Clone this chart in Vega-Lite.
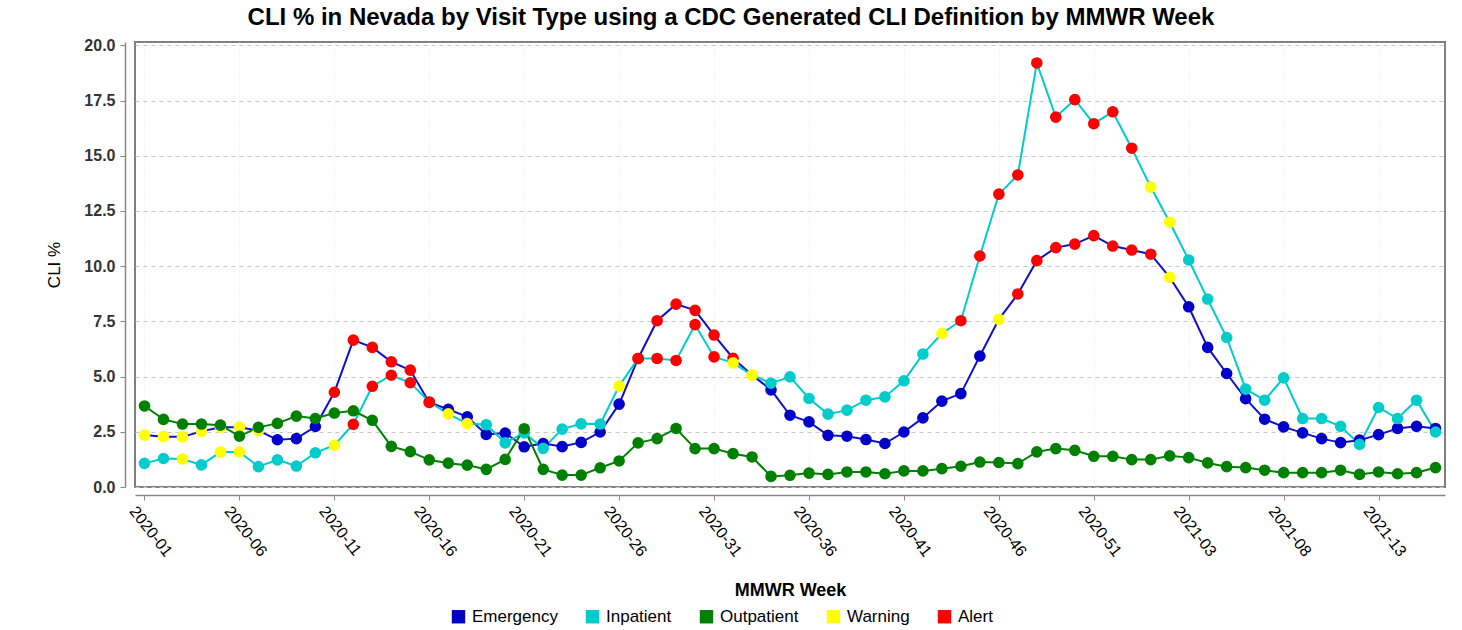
{
"$schema": "https://vega.github.io/schema/vega-lite/v6.json",
"width": 1310, "height": 445,
"autosize": {"type": "none"},
"padding": {"left": 135, "top": 42, "right": 17, "bottom": 143},
"background": "white",
"config": {"font": "Liberation Sans", "view": {"stroke": "#7f7f7f", "strokeWidth": 2}},
"title": {"text": "CLI % in Nevada by Visit Type using a CDC Generated CLI Definition by MMWR Week", "fontSize": 24, "fontWeight": "bold", "color": "#000000", "offset": 7, "dx": -59},
"datasets": {"cli": [
{"week":"2020-01","type":"Emergency","value":2.35,"marker":"Warning"},
{"week":"2020-02","type":"Emergency","value":2.28,"marker":"Warning"},
{"week":"2020-03","type":"Emergency","value":2.27,"marker":"Warning"},
{"week":"2020-04","type":"Emergency","value":2.52,"marker":"Warning"},
{"week":"2020-05","type":"Emergency","value":2.70,"marker":"Warning"},
{"week":"2020-06","type":"Emergency","value":2.71,"marker":"Warning"},
{"week":"2020-07","type":"Emergency","value":2.55,"marker":"Warning"},
{"week":"2020-08","type":"Emergency","value":2.14,"marker":"Emergency"},
{"week":"2020-09","type":"Emergency","value":2.19,"marker":"Emergency"},
{"week":"2020-10","type":"Emergency","value":2.74,"marker":"Emergency"},
{"week":"2020-11","type":"Emergency","value":4.29,"marker":"Alert"},
{"week":"2020-12","type":"Emergency","value":6.65,"marker":"Alert"},
{"week":"2020-13","type":"Emergency","value":6.32,"marker":"Alert"},
{"week":"2020-14","type":"Emergency","value":5.67,"marker":"Alert"},
{"week":"2020-15","type":"Emergency","value":5.29,"marker":"Alert"},
{"week":"2020-16","type":"Emergency","value":3.83,"marker":"Alert"},
{"week":"2020-17","type":"Emergency","value":3.52,"marker":"Emergency"},
{"week":"2020-18","type":"Emergency","value":3.18,"marker":"Emergency"},
{"week":"2020-19","type":"Emergency","value":2.38,"marker":"Emergency"},
{"week":"2020-20","type":"Emergency","value":2.44,"marker":"Emergency"},
{"week":"2020-21","type":"Emergency","value":1.82,"marker":"Emergency"},
{"week":"2020-22","type":"Emergency","value":1.97,"marker":"Emergency"},
{"week":"2020-23","type":"Emergency","value":1.83,"marker":"Emergency"},
{"week":"2020-24","type":"Emergency","value":2.02,"marker":"Emergency"},
{"week":"2020-25","type":"Emergency","value":2.49,"marker":"Emergency"},
{"week":"2020-26","type":"Emergency","value":3.75,"marker":"Emergency"},
{"week":"2020-27","type":"Emergency","value":5.82,"marker":"Alert"},
{"week":"2020-28","type":"Emergency","value":7.53,"marker":"Alert"},
{"week":"2020-29","type":"Emergency","value":8.28,"marker":"Alert"},
{"week":"2020-30","type":"Emergency","value":8.00,"marker":"Alert"},
{"week":"2020-31","type":"Emergency","value":6.88,"marker":"Alert"},
{"week":"2020-32","type":"Emergency","value":5.83,"marker":"Alert"},
{"week":"2020-33","type":"Emergency","value":5.07,"marker":"Warning"},
{"week":"2020-34","type":"Emergency","value":4.40,"marker":"Emergency"},
{"week":"2020-35","type":"Emergency","value":3.25,"marker":"Emergency"},
{"week":"2020-36","type":"Emergency","value":2.95,"marker":"Emergency"},
{"week":"2020-37","type":"Emergency","value":2.34,"marker":"Emergency"},
{"week":"2020-38","type":"Emergency","value":2.30,"marker":"Emergency"},
{"week":"2020-39","type":"Emergency","value":2.15,"marker":"Emergency"},
{"week":"2020-40","type":"Emergency","value":1.97,"marker":"Emergency"},
{"week":"2020-41","type":"Emergency","value":2.49,"marker":"Emergency"},
{"week":"2020-42","type":"Emergency","value":3.13,"marker":"Emergency"},
{"week":"2020-43","type":"Emergency","value":3.89,"marker":"Emergency"},
{"week":"2020-44","type":"Emergency","value":4.23,"marker":"Emergency"},
{"week":"2020-45","type":"Emergency","value":5.93,"marker":"Emergency"},
{"week":"2020-46","type":"Emergency","value":7.59,"marker":"Warning"},
{"week":"2020-47","type":"Emergency","value":8.74,"marker":"Alert"},
{"week":"2020-48","type":"Emergency","value":10.25,"marker":"Alert"},
{"week":"2020-49","type":"Emergency","value":10.84,"marker":"Alert"},
{"week":"2020-50","type":"Emergency","value":11.00,"marker":"Alert"},
{"week":"2020-51","type":"Emergency","value":11.38,"marker":"Alert"},
{"week":"2020-52","type":"Emergency","value":10.91,"marker":"Alert"},
{"week":"2020-53","type":"Emergency","value":10.73,"marker":"Alert"},
{"week":"2021-01","type":"Emergency","value":10.54,"marker":"Alert"},
{"week":"2021-02","type":"Emergency","value":9.49,"marker":"Warning"},
{"week":"2021-03","type":"Emergency","value":8.16,"marker":"Emergency"},
{"week":"2021-04","type":"Emergency","value":6.32,"marker":"Emergency"},
{"week":"2021-05","type":"Emergency","value":5.14,"marker":"Emergency"},
{"week":"2021-06","type":"Emergency","value":4.00,"marker":"Emergency"},
{"week":"2021-07","type":"Emergency","value":3.07,"marker":"Emergency"},
{"week":"2021-08","type":"Emergency","value":2.72,"marker":"Emergency"},
{"week":"2021-09","type":"Emergency","value":2.45,"marker":"Emergency"},
{"week":"2021-10","type":"Emergency","value":2.19,"marker":"Emergency"},
{"week":"2021-11","type":"Emergency","value":2.01,"marker":"Emergency"},
{"week":"2021-12","type":"Emergency","value":2.12,"marker":"Emergency"},
{"week":"2021-13","type":"Emergency","value":2.37,"marker":"Emergency"},
{"week":"2021-14","type":"Emergency","value":2.65,"marker":"Emergency"},
{"week":"2021-15","type":"Emergency","value":2.75,"marker":"Emergency"},
{"week":"2021-16","type":"Emergency","value":2.65,"marker":"Emergency"},
{"week":"2020-01","type":"Inpatient","value":1.07,"marker":"Inpatient"},
{"week":"2020-02","type":"Inpatient","value":1.29,"marker":"Inpatient"},
{"week":"2020-03","type":"Inpatient","value":1.27,"marker":"Warning"},
{"week":"2020-04","type":"Inpatient","value":1.00,"marker":"Inpatient"},
{"week":"2020-05","type":"Inpatient","value":1.58,"marker":"Warning"},
{"week":"2020-06","type":"Inpatient","value":1.59,"marker":"Warning"},
{"week":"2020-07","type":"Inpatient","value":0.92,"marker":"Inpatient"},
{"week":"2020-08","type":"Inpatient","value":1.23,"marker":"Inpatient"},
{"week":"2020-09","type":"Inpatient","value":0.95,"marker":"Inpatient"},
{"week":"2020-10","type":"Inpatient","value":1.55,"marker":"Inpatient"},
{"week":"2020-11","type":"Inpatient","value":1.89,"marker":"Warning"},
{"week":"2020-12","type":"Inpatient","value":2.84,"marker":"Alert"},
{"week":"2020-13","type":"Inpatient","value":4.56,"marker":"Alert"},
{"week":"2020-14","type":"Inpatient","value":5.06,"marker":"Alert"},
{"week":"2020-15","type":"Inpatient","value":4.72,"marker":"Alert"},
{"week":"2020-16","type":"Inpatient","value":3.85,"marker":"Alert"},
{"week":"2020-17","type":"Inpatient","value":3.31,"marker":"Warning"},
{"week":"2020-18","type":"Inpatient","value":2.87,"marker":"Warning"},
{"week":"2020-19","type":"Inpatient","value":2.82,"marker":"Inpatient"},
{"week":"2020-20","type":"Inpatient","value":2.00,"marker":"Inpatient"},
{"week":"2020-21","type":"Inpatient","value":2.45,"marker":"Inpatient"},
{"week":"2020-22","type":"Inpatient","value":1.75,"marker":"Inpatient"},
{"week":"2020-23","type":"Inpatient","value":2.62,"marker":"Inpatient"},
{"week":"2020-24","type":"Inpatient","value":2.86,"marker":"Inpatient"},
{"week":"2020-25","type":"Inpatient","value":2.85,"marker":"Inpatient"},
{"week":"2020-26","type":"Inpatient","value":4.57,"marker":"Warning"},
{"week":"2020-27","type":"Inpatient","value":5.82,"marker":"Alert"},
{"week":"2020-28","type":"Inpatient","value":5.82,"marker":"Alert"},
{"week":"2020-29","type":"Inpatient","value":5.73,"marker":"Alert"},
{"week":"2020-30","type":"Inpatient","value":7.35,"marker":"Alert"},
{"week":"2020-31","type":"Inpatient","value":5.89,"marker":"Alert"},
{"week":"2020-32","type":"Inpatient","value":5.62,"marker":"Warning"},
{"week":"2020-33","type":"Inpatient","value":5.07,"marker":"Warning"},
{"week":"2020-34","type":"Inpatient","value":4.70,"marker":"Inpatient"},
{"week":"2020-35","type":"Inpatient","value":4.99,"marker":"Inpatient"},
{"week":"2020-36","type":"Inpatient","value":4.01,"marker":"Inpatient"},
{"week":"2020-37","type":"Inpatient","value":3.30,"marker":"Inpatient"},
{"week":"2020-38","type":"Inpatient","value":3.48,"marker":"Inpatient"},
{"week":"2020-39","type":"Inpatient","value":3.93,"marker":"Inpatient"},
{"week":"2020-40","type":"Inpatient","value":4.08,"marker":"Inpatient"},
{"week":"2020-41","type":"Inpatient","value":4.81,"marker":"Inpatient"},
{"week":"2020-42","type":"Inpatient","value":6.02,"marker":"Inpatient"},
{"week":"2020-43","type":"Inpatient","value":6.95,"marker":"Warning"},
{"week":"2020-44","type":"Inpatient","value":7.53,"marker":"Alert"},
{"week":"2020-45","type":"Inpatient","value":10.46,"marker":"Alert"},
{"week":"2020-46","type":"Inpatient","value":13.26,"marker":"Alert"},
{"week":"2020-47","type":"Inpatient","value":14.13,"marker":"Alert"},
{"week":"2020-48","type":"Inpatient","value":19.20,"marker":"Alert"},
{"week":"2020-49","type":"Inpatient","value":16.75,"marker":"Alert"},
{"week":"2020-50","type":"Inpatient","value":17.54,"marker":"Alert"},
{"week":"2020-51","type":"Inpatient","value":16.45,"marker":"Alert"},
{"week":"2020-52","type":"Inpatient","value":16.99,"marker":"Alert"},
{"week":"2020-53","type":"Inpatient","value":15.34,"marker":"Alert"},
{"week":"2021-01","type":"Inpatient","value":13.58,"marker":"Warning"},
{"week":"2021-02","type":"Inpatient","value":11.99,"marker":"Warning"},
{"week":"2021-03","type":"Inpatient","value":10.28,"marker":"Inpatient"},
{"week":"2021-04","type":"Inpatient","value":8.51,"marker":"Inpatient"},
{"week":"2021-05","type":"Inpatient","value":6.77,"marker":"Inpatient"},
{"week":"2021-06","type":"Inpatient","value":4.43,"marker":"Inpatient"},
{"week":"2021-07","type":"Inpatient","value":3.93,"marker":"Inpatient"},
{"week":"2021-08","type":"Inpatient","value":4.94,"marker":"Inpatient"},
{"week":"2021-09","type":"Inpatient","value":3.10,"marker":"Inpatient"},
{"week":"2021-10","type":"Inpatient","value":3.10,"marker":"Inpatient"},
{"week":"2021-11","type":"Inpatient","value":2.75,"marker":"Inpatient"},
{"week":"2021-12","type":"Inpatient","value":1.93,"marker":"Inpatient"},
{"week":"2021-13","type":"Inpatient","value":3.60,"marker":"Inpatient"},
{"week":"2021-14","type":"Inpatient","value":3.10,"marker":"Inpatient"},
{"week":"2021-15","type":"Inpatient","value":3.93,"marker":"Inpatient"},
{"week":"2021-16","type":"Inpatient","value":2.49,"marker":"Inpatient"},
{"week":"2020-01","type":"Outpatient","value":3.67,"marker":"Outpatient"},
{"week":"2020-02","type":"Outpatient","value":3.06,"marker":"Outpatient"},
{"week":"2020-03","type":"Outpatient","value":2.85,"marker":"Outpatient"},
{"week":"2020-04","type":"Outpatient","value":2.85,"marker":"Outpatient"},
{"week":"2020-05","type":"Outpatient","value":2.80,"marker":"Outpatient"},
{"week":"2020-06","type":"Outpatient","value":2.30,"marker":"Outpatient"},
{"week":"2020-07","type":"Outpatient","value":2.70,"marker":"Outpatient"},
{"week":"2020-08","type":"Outpatient","value":2.88,"marker":"Outpatient"},
{"week":"2020-09","type":"Outpatient","value":3.21,"marker":"Outpatient"},
{"week":"2020-10","type":"Outpatient","value":3.10,"marker":"Outpatient"},
{"week":"2020-11","type":"Outpatient","value":3.35,"marker":"Outpatient"},
{"week":"2020-12","type":"Outpatient","value":3.45,"marker":"Outpatient"},
{"week":"2020-13","type":"Outpatient","value":3.02,"marker":"Outpatient"},
{"week":"2020-14","type":"Outpatient","value":1.84,"marker":"Outpatient"},
{"week":"2020-15","type":"Outpatient","value":1.60,"marker":"Outpatient"},
{"week":"2020-16","type":"Outpatient","value":1.23,"marker":"Outpatient"},
{"week":"2020-17","type":"Outpatient","value":1.08,"marker":"Outpatient"},
{"week":"2020-18","type":"Outpatient","value":0.99,"marker":"Outpatient"},
{"week":"2020-19","type":"Outpatient","value":0.80,"marker":"Outpatient"},
{"week":"2020-20","type":"Outpatient","value":1.25,"marker":"Outpatient"},
{"week":"2020-21","type":"Outpatient","value":2.64,"marker":"Outpatient"},
{"week":"2020-22","type":"Outpatient","value":0.80,"marker":"Outpatient"},
{"week":"2020-23","type":"Outpatient","value":0.54,"marker":"Outpatient"},
{"week":"2020-24","type":"Outpatient","value":0.54,"marker":"Outpatient"},
{"week":"2020-25","type":"Outpatient","value":0.87,"marker":"Outpatient"},
{"week":"2020-26","type":"Outpatient","value":1.18,"marker":"Outpatient"},
{"week":"2020-27","type":"Outpatient","value":2.00,"marker":"Outpatient"},
{"week":"2020-28","type":"Outpatient","value":2.19,"marker":"Outpatient"},
{"week":"2020-29","type":"Outpatient","value":2.65,"marker":"Outpatient"},
{"week":"2020-30","type":"Outpatient","value":1.74,"marker":"Outpatient"},
{"week":"2020-31","type":"Outpatient","value":1.74,"marker":"Outpatient"},
{"week":"2020-32","type":"Outpatient","value":1.51,"marker":"Outpatient"},
{"week":"2020-33","type":"Outpatient","value":1.36,"marker":"Outpatient"},
{"week":"2020-34","type":"Outpatient","value":0.48,"marker":"Outpatient"},
{"week":"2020-35","type":"Outpatient","value":0.53,"marker":"Outpatient"},
{"week":"2020-36","type":"Outpatient","value":0.63,"marker":"Outpatient"},
{"week":"2020-37","type":"Outpatient","value":0.57,"marker":"Outpatient"},
{"week":"2020-38","type":"Outpatient","value":0.68,"marker":"Outpatient"},
{"week":"2020-39","type":"Outpatient","value":0.68,"marker":"Outpatient"},
{"week":"2020-40","type":"Outpatient","value":0.60,"marker":"Outpatient"},
{"week":"2020-41","type":"Outpatient","value":0.73,"marker":"Outpatient"},
{"week":"2020-42","type":"Outpatient","value":0.73,"marker":"Outpatient"},
{"week":"2020-43","type":"Outpatient","value":0.83,"marker":"Outpatient"},
{"week":"2020-44","type":"Outpatient","value":0.94,"marker":"Outpatient"},
{"week":"2020-45","type":"Outpatient","value":1.13,"marker":"Outpatient"},
{"week":"2020-46","type":"Outpatient","value":1.11,"marker":"Outpatient"},
{"week":"2020-47","type":"Outpatient","value":1.06,"marker":"Outpatient"},
{"week":"2020-48","type":"Outpatient","value":1.59,"marker":"Outpatient"},
{"week":"2020-49","type":"Outpatient","value":1.74,"marker":"Outpatient"},
{"week":"2020-50","type":"Outpatient","value":1.66,"marker":"Outpatient"},
{"week":"2020-51","type":"Outpatient","value":1.39,"marker":"Outpatient"},
{"week":"2020-52","type":"Outpatient","value":1.39,"marker":"Outpatient"},
{"week":"2020-53","type":"Outpatient","value":1.24,"marker":"Outpatient"},
{"week":"2021-01","type":"Outpatient","value":1.24,"marker":"Outpatient"},
{"week":"2021-02","type":"Outpatient","value":1.41,"marker":"Outpatient"},
{"week":"2021-03","type":"Outpatient","value":1.33,"marker":"Outpatient"},
{"week":"2021-04","type":"Outpatient","value":1.09,"marker":"Outpatient"},
{"week":"2021-05","type":"Outpatient","value":0.92,"marker":"Outpatient"},
{"week":"2021-06","type":"Outpatient","value":0.88,"marker":"Outpatient"},
{"week":"2021-07","type":"Outpatient","value":0.76,"marker":"Outpatient"},
{"week":"2021-08","type":"Outpatient","value":0.65,"marker":"Outpatient"},
{"week":"2021-09","type":"Outpatient","value":0.65,"marker":"Outpatient"},
{"week":"2021-10","type":"Outpatient","value":0.65,"marker":"Outpatient"},
{"week":"2021-11","type":"Outpatient","value":0.76,"marker":"Outpatient"},
{"week":"2021-12","type":"Outpatient","value":0.57,"marker":"Outpatient"},
{"week":"2021-13","type":"Outpatient","value":0.68,"marker":"Outpatient"},
{"week":"2021-14","type":"Outpatient","value":0.60,"marker":"Outpatient"},
{"week":"2021-15","type":"Outpatient","value":0.65,"marker":"Outpatient"},
{"week":"2021-16","type":"Outpatient","value":0.88,"marker":"Outpatient"}
]},
"data": {"name": "cli"},
"encoding": {
  "x": {"field": "week", "type": "ordinal", "sort": null,
    "scale": {"type": "point", "padding": 0.5},
    "axis": {"title": "MMWR Week", "titleFontSize": 18, "titleFontWeight": "bold", "titleColor": "#000000", "titlePadding": 22,
      "values": ["2020-01","2020-06","2020-11","2020-16","2020-21","2020-26","2020-31","2020-36","2020-41","2020-46","2020-51","2021-03","2021-08","2021-13"],
      "labelAngle": 52, "labelAlign": "left", "labelBaseline": "top", "labelFontSize": 16, "labelColor": "#000000", "labelPadding": 3, "labelOffset": -6,
      "offset": 8, "domainColor": "#888888", "domainWidth": 1.5, "tickColor": "#888888", "tickSize": 5,
      "grid": true, "gridColor": "#e6e6e6", "gridDash": [1, 2], "gridWidth": 1}},
  "y": {"field": "value", "type": "quantitative",
    "scale": {"domain": [0, 20.15], "nice": false, "zero": false},
    "axis": {"title": "CLI %", "titleFontSize": 17, "titleFontWeight": "normal", "titleColor": "#000000", "titlePadding": 20,
      "values": [0, 2.5, 5, 7.5, 10, 12.5, 15, 17.5, 20], "format": ".1f",
      "labelFontSize": 16, "labelFontWeight": "bold", "labelColor": "#333333", "labelPadding": 5,
      "offset": 10, "domainColor": "#888888", "domainWidth": 1.5, "tickColor": "#888888", "tickSize": 5,
      "grid": true, "gridColor": "#c8c8c8", "gridDash": [4, 4], "gridWidth": 1}}
},
"layer": [
  {"mark": {"type": "line", "strokeWidth": 2},
   "encoding": {"stroke": {"field": "type", "type": "nominal",
     "scale": {"domain": ["Emergency", "Inpatient", "Outpatient"], "range": ["#1010cc", "#00cccc", "#008000"]},
     "legend": null}}},
  {"mark": {"type": "circle", "size": 135, "opacity": 1},
   "encoding": {"color": {"field": "marker", "type": "nominal",
     "scale": {"domain": ["Emergency", "Inpatient", "Outpatient", "Warning", "Alert"], "range": ["#0000c8", "#00cccc", "#008000", "#ffff00", "#ff0000"]},
     "legend": {"title": null, "orient": "none", "legendX": 315, "legendY": 566, "direction": "horizontal",
       "symbolType": "square", "symbolSize": 180, "symbolStrokeWidth": 0, "symbolOpacity": 1,
       "labelFontSize": 17, "labelColor": "#000000", "columnPadding": 26, "labelOffset": 5}}}}
]
}
